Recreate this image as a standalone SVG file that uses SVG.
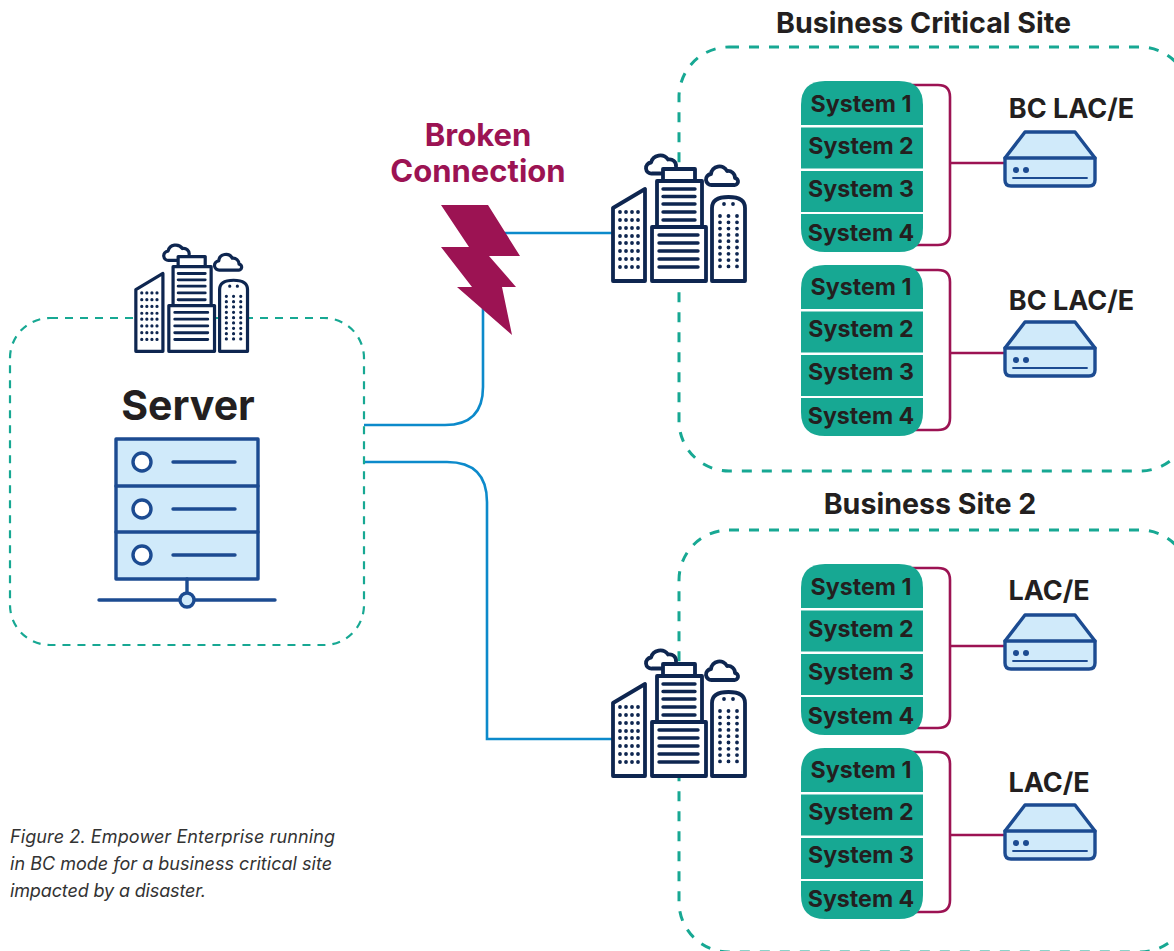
<svg xmlns="http://www.w3.org/2000/svg" width="1174" height="951" viewBox="0 0 1174 951">
<style>
text{font-family:Inter,"Liberation Sans",sans-serif;fill:#231f20}
.b{font-weight:700}
.sys{font-weight:700;font-size:23.200px;text-anchor:middle}
.lac{font-weight:700;font-size:27px;text-anchor:middle}
.ttl{font-weight:700;font-size:28.600px;text-anchor:middle}
.cap{font-style:italic;font-size:18px;fill:#333}
.dash{fill:none;stroke:#17a893;stroke-width:3;stroke-dasharray:10 10}
.dash2{fill:none;stroke:#17a893;stroke-width:2.200;stroke-dasharray:8 7}
.blue{fill:none;stroke:#0c8acb;stroke-width:2.600}
.mag{fill:none;stroke:#9c1353;stroke-width:2.600}
.c{fill:#fff;stroke:#0e2650;stroke-width:3.800;stroke-linejoin:round;stroke-linecap:round}
.l{fill:none;stroke:#0e2650;stroke-width:3.400;stroke-linecap:round}
.d{fill:none;stroke:#0e2650;stroke-width:3.800;stroke-linecap:round}
.n{fill:#d0eafa;stroke:#1c4b91;stroke-width:3.400;stroke-linejoin:round}
.nl{fill:none;stroke:#1c4b91;stroke-linecap:round}
</style>
<defs>
<g id="city">
<path class="c" style="fill:none" d="M662 173.500H652a5.500 5.500 0 0 1-1-11a9.500 9.500 0 0 1 17-3a6.500 6.500 0 0 1 8 7"/>
<path class="c" style="fill:none" d="M712 185a5.500 5.500 0 0 1-1-11a8.500 8.500 0 0 1 16-3a7 7 0 0 1 8 7a3.500 3.500 0 0 1-1 7z"/>
<rect class="c" x="663" y="169" width="32" height="12"/>
<rect class="c" x="657" y="181" width="45" height="46"/>
<rect class="c" x="652" y="227" width="54" height="54"/>
<path class="c" d="M613 208L645 189V281H613z"/>
<path class="c" d="M712 281V208Q712 197 728.500 197Q745 197 745 208V281z"/>
<path class="l" d="M663 189H695M663 196.500H695M663 204H695M663 212H695M663 220H695M659 235H698M659 243H698M659 251H698M659 259H698M659 267H698"/>
<path class="d" stroke-dasharray="0 6" d="M620 212H639M620 220H639M620 228H639M620 236H639M620 243H639M620 251H639M620 259H639M620 267H639"/>
<path class="d" stroke-dasharray="0 6.300" d="M720 216V268M728.500 216V268M737 216V268"/>
<path class="d" d="M724 204h0M733 204h0"/>
</g>
<g id="stackbody">
<path fill="#17a893" d="M825 81H899Q923 81 923 105V125H801V105Q801 81 825 81z"/>
<rect fill="#17a893" x="801" y="127.500" width="122" height="41"/>
<rect fill="#17a893" x="801" y="171" width="122" height="41"/>
<path fill="#17a893" d="M801 214H923V228Q923 252 899 252H825Q801 252 801 228z"/>
</g>
<g id="stacktext">
<text class="sys" x="861" y="112">System 1</text>
<text class="sys" x="861" y="154">System 2</text>
<text class="sys" x="861" y="197">System 3</text>
<text class="sys" x="861" y="241">System 4</text>
</g>
<g id="bracket">
<path class="mag" d="M905 85H938Q950 85 950 97V233Q950 245 938 245H915"/>
</g>
<g id="lace">
<path class="n" d="M1025 132H1075L1095 158V180Q1095 186 1089 186H1011Q1005 186 1005 180V158z"/>
<path class="nl" stroke-width="3.400" d="M1005 158H1095"/>
<circle cx="1016" cy="170" r="3" fill="#1c4b91"/>
<circle cx="1026" cy="170" r="3" fill="#1c4b91"/>
<path class="nl" stroke-width="1.800" d="M1013 178H1087"/>
</g>
</defs>
<g id="connectors">
<path class="blue" d="M364 425H445Q483 425 483 387V300"/>
<path class="blue" d="M500 233H614"/>
<path class="blue" d="M364 462H447Q487 462 487 502V739H614"/>
<use href="#bracket"/><use href="#bracket" y="185"/><use href="#bracket" y="483"/><use href="#bracket" y="667"/>
<path class="mag" d="M950 163H1006M950 353H1006M950 646H1006M950 835H1006"/>
</g>
<g id="site-critical">
<rect class="dash" x="679" y="47" width="511" height="424" rx="50"/>
<text class="ttl" x="923.500" y="33">Business Critical Site</text>
</g>
<g id="site-2">
<rect class="dash" x="679" y="530" width="511" height="422" rx="50"/>
<text class="ttl" x="930" y="514">Business Site 2</text>
</g>
<g id="server">
<rect class="dash2" x="10" y="318" width="354" height="327" rx="40"/>
<use href="#city" transform="translate(135 353) scale(.846) translate(-612 -283)"/>
<text class="b" x="188" y="420" font-size="41" text-anchor="middle">Server</text>
<rect class="n" x="116" y="439" width="142" height="140"/>
<path class="nl" stroke-width="3.400" d="M116 486H258M116 532H258"/>
<g fill="#fff" stroke="#1c4b91" stroke-width="3.400"><circle cx="142" cy="462" r="9"/><circle cx="142" cy="509" r="9"/><circle cx="142" cy="555" r="9"/></g>
<path class="nl" stroke-width="3.400" d="M173 462H235M173 509H235M173 555H235M187 579V593M99 600H275"/>
<circle cx="187" cy="600" r="7" fill="#d0eafa" stroke="#1c4b91" stroke-width="3.400"/>
</g>
<g id="broken-connection">
<path fill="#9c1353" d="M441 205H488L520 256H489L516 287H502L512 335L457 287H472L441 247H469z"/>
<text class="b" x="478" y="146" font-size="31" text-anchor="middle" style="fill:#9c1353">Broken</text>
<text class="b" x="478" y="182" font-size="31" text-anchor="middle" style="fill:#9c1353">Connection</text>
</g>
<g id="city-critical"><use href="#city"/></g>
<g id="city-site2"><use href="#city" y="495"/></g>
<g id="stack-1"><use href="#stackbody"/><use href="#stacktext"/></g>
<g id="stack-2"><use href="#stackbody" y="184"/><use href="#stacktext" y="182.500"/></g>
<g id="stack-3"><use href="#stackbody" y="483"/><use href="#stacktext" y="482.500"/></g>
<g id="stack-4"><use href="#stackbody" y="667"/><use href="#stacktext" y="665.500"/></g>
<g id="lac-1"><use href="#lace"/><text class="lac" x="1071.500" y="118">BC LAC/E</text></g>
<g id="lac-2"><use href="#lace" y="190"/><text class="lac" x="1071.500" y="310">BC LAC/E</text></g>
<g id="lac-3"><use href="#lace" y="483"/><text class="lac" x="1049" y="600">LAC/E</text></g>
<g id="lac-4"><use href="#lace" y="673"/><text class="lac" x="1049" y="792">LAC/E</text></g>
<g id="caption">
<text class="cap" x="10" y="843" textLength="325">Figure 2. Empower Enterprise running</text>
<text class="cap" x="10" y="870" textLength="322">in BC mode for a business critical site</text>
<text class="cap" x="10" y="897" textLength="196">impacted by a disaster.</text>
</g>
</svg>
